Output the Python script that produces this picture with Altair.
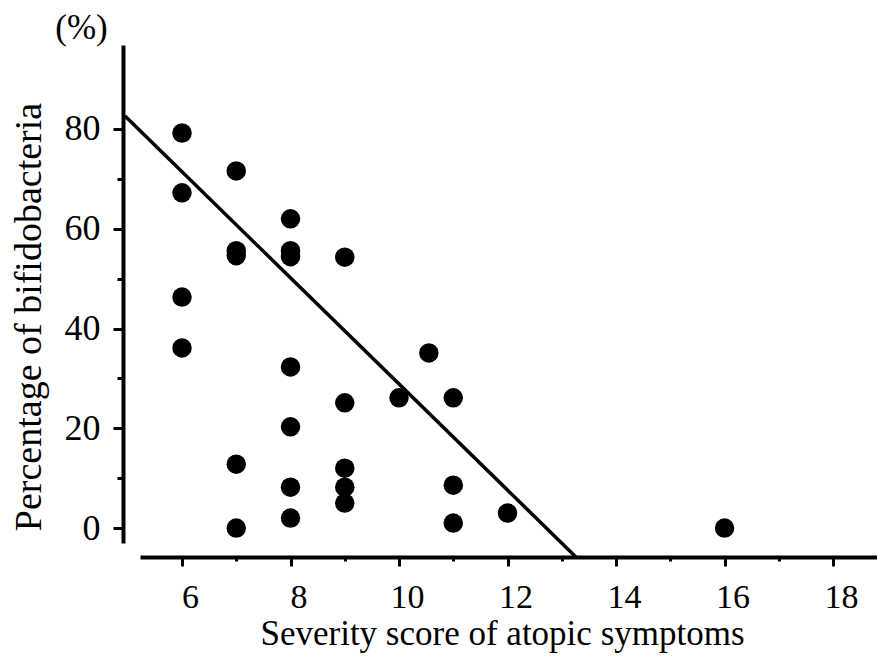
import altair as alt
import pandas as pd

# Data
severity = [6, 6, 6, 6,
            7, 7, 7, 7, 7,
            8, 8, 8, 8, 8, 8, 8,
            9, 9, 9, 9, 9,
            10, 10.55,
            11, 11, 11,
            12, 16]
bifido = [79.2, 67.2, 46.3, 36.1,
          71.6, 55.6, 54.6, 12.8, 0.0,
          62.0, 55.6, 54.4, 32.3, 20.3, 8.2, 2.0,
          54.3, 25.1, 12.0, 8.2, 5.0,
          26.1, 35.1,
          26.1, 8.6, 1.0,
          3.0, 0.0]

line_x = [4.95, 13.26]
line_y = [82.6, -5.8]

x_ticks = list(range(6, 19))
y_ticks = list(range(0, 90, 5))

FONT = "Liberation Serif"

pts = pd.DataFrame({"severity": severity, "bifido": bifido})
reg = pd.DataFrame({"severity": line_x, "bifido": line_y})
unit = pd.DataFrame({"t": ["(%)"]})

xscale = alt.Scale(domain=[5.226, 18.81], nice=False, zero=False)
yscale = alt.Scale(domain=[-3.0, 96.84], nice=False, zero=False)

xaxis = alt.Axis(
    values=x_ticks,
    labelExpr="datum.value % 2 === 0 ? datum.label : ''",
    tickSize={"condition": {"test": "datum.value % 2 === 0", "value": 9}, "value": 4},
    tickWidth=3, tickColor="black",
    domainWidth=4, domainColor="black",
    offset=14, grid=False,
    labelFont=FONT, labelFontSize=34, labelColor="black",
    labelPadding=14, labelOffset=8, labelOverlap=False, labelFlush=False,
    title="Severity score of atopic symptoms",
    titleFont=FONT, titleFontSize=35, titleFontWeight="normal", titleColor="black",
    titleX=362, titleY=87, titleBaseline="alphabetic", titleAlign="center",
)
yaxis = alt.Axis(
    values=y_ticks,
    labelExpr="datum.value % 20 === 0 ? datum.label : ''",
    tickSize={"condition": {"test": "datum.value % 20 === 0", "value": 10}, "value": 6},
    tickWidth=3, tickColor="black",
    domainWidth=4, domainColor="black",
    offset=17, grid=False,
    labelFont=FONT, labelFontSize=36, labelColor="black",
    labelPadding=13, labelOverlap=False, labelFlush=False,
    title="Percentage of bifidobacteria",
    titleFont=FONT, titleFontSize=38, titleFontWeight="normal", titleColor="black",
    titleAngle=270, titleX=-83, titleY=271.5, titleBaseline="alphabetic", titleAlign="center",
)

points = alt.Chart(pts).mark_circle(size=380, color="black", opacity=1).encode(
    x=alt.X("severity:Q", scale=xscale, axis=xaxis),
    y=alt.Y("bifido:Q", scale=yscale, axis=yaxis),
)

line = alt.Chart(reg).mark_line(color="black", strokeWidth=3.5, clip=False).encode(
    x=alt.X("severity:Q", scale=xscale),
    y=alt.Y("bifido:Q", scale=yscale),
)

unit_text = alt.Chart(unit).mark_text(
    font=FONT, fontSize=35, color="black", align="center", baseline="alphabetic"
).encode(
    text="t:N",
    x=alt.value(-58.5),
    y=alt.value(-6),
)

chart = alt.layer(points, line, unit_text).properties(
    width=737,
    height=498,
    autosize=alt.AutoSizeParams(type="none"),
    padding={"left": 132, "top": 37, "right": 0, "bottom": 110},
).configure_view(stroke=None)

chart.save("out.html", embed_options={"renderer": "svg", "actions": False})
